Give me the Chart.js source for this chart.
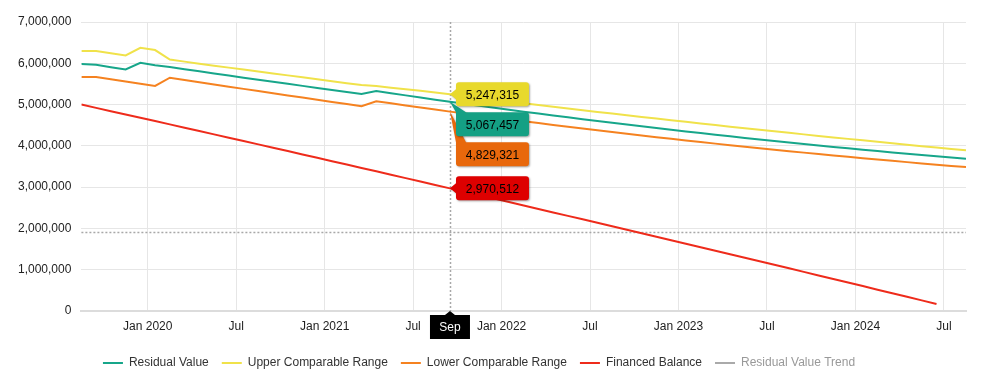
<!DOCTYPE html>
<html><head><meta charset="utf-8">
<script src="https://cdn.jsdelivr.net/npm/chart.js@4/dist/chart.umd.min.js"></script>
<style>html,body{margin:0;padding:0;background:#fff;overflow:hidden}</style>
</head><body>
<canvas id="c" width="986" height="388"></canvas>
<script>
const months = ['2019-08','2019-09','2019-10','2019-11','2019-12',
 '2020-01','2020-02','2020-03','2020-04','2020-05','2020-06','2020-07','2020-08','2020-09','2020-10','2020-11','2020-12',
 '2021-01','2021-02','2021-03','2021-04','2021-05','2021-06','2021-07','2021-08','2021-09','2021-10','2021-11','2021-12',
 '2022-01','2022-02','2022-03','2022-04','2022-05','2022-06','2022-07','2022-08','2022-09','2022-10','2022-11','2022-12',
 '2023-01','2023-02','2023-03','2023-04','2023-05','2023-06','2023-07','2023-08','2023-09','2023-10','2023-11','2023-12',
 '2024-01','2024-02','2024-03','2024-04','2024-05','2024-06','2024-07','2024-08'];

const residualValue = [5980000,5965000,5905000,5850000,6010000,5955000,5910000,5858000,5806000,5754000,
 5702000,5650000,5600000,5551000,5502000,5453000,5402000,5353000,5304000,5254000,
 5327000,5275000,5223000,5171000,5119000,5067457,5018000,4970000,4922000,4875000,
 4828000,4782000,4736000,4691000,4646000,4602000,4559000,4516000,4474000,4432000,
 4391000,4350000,4310000,4271000,4232000,4193000,4155000,4118000,4081000,4045000,
 4009000,3974000,3940000,3906000,3873000,3840000,3808000,3777000,3747000,3718000,3690000];

const upperRange = [6295000,6295000,6242000,6190000,6375000,6320000,6090000,6040000,5990000,5942000,
 5895000,5848000,5801000,5754000,5707000,5660000,5613000,5566000,5519000,5472000,
 5448000,5410000,5372000,5334000,5292000,5247315,5203000,5160000,5117000,5074000,
 5031000,4989000,4947000,4905000,4863000,4822000,4781000,4741000,4701000,4661000,
 4621000,4582000,4543000,4504000,4465000,4427000,4389000,4352000,4315000,4278000,
 4241000,4205000,4169000,4133000,4097000,4062000,4027000,3993000,3959000,3925000,3891000];

const lowerRange = [5670000,5665000,5611000,5557000,5503000,5450000,5650000,5596000,5542000,5488000,
 5434000,5380000,5327000,5275000,5222000,5170000,5117000,5065000,5012000,4960000,
 5080000,5030000,4980000,4930000,4880000,4829321,4782000,4734000,4688000,4642000,
 4596000,4551000,4507000,4463000,4420000,4377000,4335000,4293000,4252000,4211000,
 4171000,4132000,4093000,4054000,4017000,3979000,3943000,3906000,3871000,3836000,
 3801000,3767000,3734000,3701000,3669000,3637000,3606000,3575000,3545000,3515000,3486000];

const financedBalance = [5000000,4920345,4840563,4760654,4680618,4600455,4520165,4439748,4359204,4278533,
 4197735,4116810,4035758,3954579,3873273,3791840,3710280,3628593,3546779,3464838,
 3382770,3300575,3218253,3135804,3053228,2970512,2887695,2804738,2721654,2638443,
 2555105,2471640,2388048,2304329,2220483,2136510,2052410,1968183,1883829,1799348,
 1714740,1630005,1545143,1460154,1375038,1289795,1204425,1118928,1033304,947553,
 861675,775670,689538,603279,516893,430380,343740,256973,170079,null,null];

const residualTrend = [];

const tickMonths = ['2020-01','2020-07','2021-01','2021-07','2022-01','2022-07','2023-01','2023-07','2024-01','2024-07'];
const tickLabels = ['Jan 2020','Jul','Jan 2021','Jul','Jan 2022','Jul','Jan 2023','Jul','Jan 2024','Jul'];
const yTicks = [0,1000000,2000000,3000000,4000000,5000000,6000000,7000000];

const hoverMonth = '2021-09';
const hoverLabel = 'Sep';
const crosshairValue = 1905000;

const FONT = "'Liberation Sans', Arial, Helvetica, sans-serif";

function monthPos(m, mid) {
  const p = m.split('-').map(Number);
  return (p[0] - 2020) * 12 + (p[1] - 1) + (mid ? 0.5 : 0);
}
function pts(arr) { return months.map((m, i) => ({x: monthPos(m, true), y: i < arr.length ? arr[i] : null})); }

const series = [
  {label: 'Residual Value', values: residualValue, line: '#17a68a', tip: '#14a084'},
  {label: 'Upper Comparable Range', values: upperRange, line: '#f0e24a', tip: '#e8d92c'},
  {label: 'Lower Comparable Range', values: lowerRange, line: '#f58220', tip: '#e8680c'},
  {label: 'Financed Balance', values: financedBalance, line: '#ee2b1b', tip: '#de0000'},
  {label: 'Residual Value Trend', values: residualTrend, line: '#aaaaaa', tip: '#aaaaaa', muted: true}
];

Chart.defaults.font.family = FONT;
Chart.defaults.font.size = 12;
Chart.defaults.color = '#333';

const hoverX = monthPos(hoverMonth, true);
const hoverIdx = months.indexOf(hoverMonth);

const crosshair = {
  id: 'crosshair',
  beforeDatasetsDraw(chart) {
    const ctx = chart.ctx, ca = chart.chartArea;
    const px = Math.round(chart.scales.x.getPixelForValue(hoverX)) + 0.5;
    const py = Math.round(chart.scales.y.getPixelForValue(crosshairValue)) + 0.5;
    ctx.save();
    ctx.strokeStyle = '#a8a8a8';
    ctx.lineWidth = 1.5;
    ctx.setLineDash([2, 2]);
    ctx.beginPath();
    ctx.moveTo(px, ca.top); ctx.lineTo(px, ca.bottom);
    ctx.moveTo(ca.left, py); ctx.lineTo(ca.right, py);
    ctx.stroke();
    ctx.restore();
  }
};

const legendShift = {
  id: 'legendShift',
  afterLayout(chart) {
    if (chart.legend) { chart.legend.left -= 8; chart.legend.right -= 8; }
  }
};

const tips = {
  id: 'tips',
  afterDraw(chart) {
    const ctx = chart.ctx, ca = chart.chartArea;
    const xs = chart.scales.x, ys = chart.scales.y;
    const ax = xs.getPixelForValue(hoverX);
    // axis label
    ctx.save();
    const lw = 40, lh = 24, ltop = ca.bottom + 4;
    ctx.fillStyle = '#000';
    ctx.beginPath();
    ctx.moveTo(ax - lw / 2, ltop);
    ctx.lineTo(ax - 5, ltop);
    ctx.lineTo(ax, ltop - 4);
    ctx.lineTo(ax + 5, ltop);
    ctx.lineTo(ax + lw / 2, ltop);
    ctx.lineTo(ax + lw / 2, ltop + lh);
    ctx.lineTo(ax - lw / 2, ltop + lh);
    ctx.closePath();
    ctx.fill();
    ctx.fillStyle = '#fff';
    ctx.font = '12px ' + FONT;
    ctx.textAlign = 'center';
    ctx.textBaseline = 'middle';
    ctx.fillText(hoverLabel, ax, ltop + lh / 2 + 1);
    ctx.restore();

    // split tooltips
    const items = series.filter(s => !s.muted && s.values[hoverIdx] != null).map(s => ({
      s, v: s.values[hoverIdx], ay: ys.getPixelForValue(s.values[hoverIdx])
    })).sort((a, b) => a.ay - b.ay);
    const bh = 24, bw = 73, gap = 6;
    let prevBottom = -Infinity;
    items.forEach(it => {
      it.top = Math.max(it.ay - bh / 2, prevBottom + gap);
      prevBottom = it.top + bh;
    });
    const left = ax + 6;
    for (let k = items.length - 1; k >= 0; k--) {
      const it = items[k];
      const top = it.top, bottom = top + bh, r = 3;
      ctx.save();
      ctx.shadowColor = 'rgba(0,0,0,0.35)';
      ctx.shadowOffsetX = 1; ctx.shadowOffsetY = 1; ctx.shadowBlur = 2;
      ctx.fillStyle = it.s.tip;
      ctx.beginPath();
      if (it.ay >= top + r + 4 && it.ay <= bottom - r - 4) {
        ctx.moveTo(left + r, top);
        ctx.lineTo(left + bw - r, top);
        ctx.quadraticCurveTo(left + bw, top, left + bw, top + r);
        ctx.lineTo(left + bw, bottom - r);
        ctx.quadraticCurveTo(left + bw, bottom, left + bw - r, bottom);
        ctx.lineTo(left + r, bottom);
        ctx.quadraticCurveTo(left, bottom, left, bottom - r);
        ctx.lineTo(left, it.ay + 5);
        ctx.lineTo(ax, it.ay);
        ctx.lineTo(left, it.ay - 5);
        ctx.lineTo(left, top + r);
        ctx.quadraticCurveTo(left, top, left + r, top);
      } else {
        ctx.moveTo(left, top);
        ctx.lineTo(ax, it.ay);
        ctx.lineTo(left + 10, top);
        ctx.lineTo(left + bw - r, top);
        ctx.quadraticCurveTo(left + bw, top, left + bw, top + r);
        ctx.lineTo(left + bw, bottom - r);
        ctx.quadraticCurveTo(left + bw, bottom, left + bw - r, bottom);
        ctx.lineTo(left + r, bottom);
        ctx.quadraticCurveTo(left, bottom, left, bottom - r);
        ctx.lineTo(left, top);
      }
      ctx.closePath();
      ctx.fill();
      ctx.restore();
      ctx.save();
      ctx.fillStyle = '#000';
      ctx.font = '12px ' + FONT;
      ctx.textAlign = 'center';
      ctx.textBaseline = 'middle';
      ctx.fillText(it.v.toLocaleString('en-US'), left + bw / 2, top + bh / 2 + 1);
      ctx.restore();
    }
  }
};

new Chart(document.getElementById('c'), {
  type: 'line',
  data: {
    datasets: series.map(s => ({
      label: s.label,
      data: pts(s.values),
      borderColor: s.line,
      backgroundColor: s.line,
      borderWidth: 2,
      pointRadius: 0,
      pointHoverRadius: 0,
      tension: 0,
      fill: false
    }))
  },
  options: {
    responsive: false,
    animation: false,
    devicePixelRatio: 1,
    events: [],
    layout: {padding: {left: 8, right: 20, top: 22, bottom: 9}},
    scales: {
      x: {
        type: 'linear',
        min: monthPos(months[0], true),
        max: monthPos(months[months.length - 1], true),
        afterBuildTicks: s => { s.ticks = tickMonths.map(m => ({value: monthPos(m, false)})); },
        afterFit: s => { s.height = 33; },
        ticks: {autoSkip: false, maxRotation: 0, padding: 8, color: '#222',
          callback: (v, i) => tickLabels[i]},
        grid: {color: '#e6e6e6', drawTicks: false},
        border: {display: true, color: '#dcdcdc', width: 2}
      },
      y: {
        min: 0, max: 7000000,
        afterBuildTicks: s => { s.ticks = yTicks.map(v => ({value: v})); },
        ticks: {padding: 10, color: '#222', callback: v => Number(v).toLocaleString('en-US')},
        grid: {color: '#e6e6e6', drawTicks: false},
        border: {display: false}
      }
    },
    plugins: {
      tooltip: {enabled: false},
      legend: {
        position: 'bottom',
        labels: {
          usePointStyle: true,
          pointStyle: 'line',
          pointStyleWidth: 20,
          padding: 13,
          color: '#333',
          font: {size: 12},
          generateLabels: chart => {
            const items = Chart.defaults.plugins.legend.labels.generateLabels(chart);
            items.forEach(it => { if (series[it.datasetIndex].muted) it.fontColor = '#999'; });
            return items;
          }
        }
      }
    }
  },
  plugins: [crosshair, legendShift, tips]
});
</script>
</body></html>
